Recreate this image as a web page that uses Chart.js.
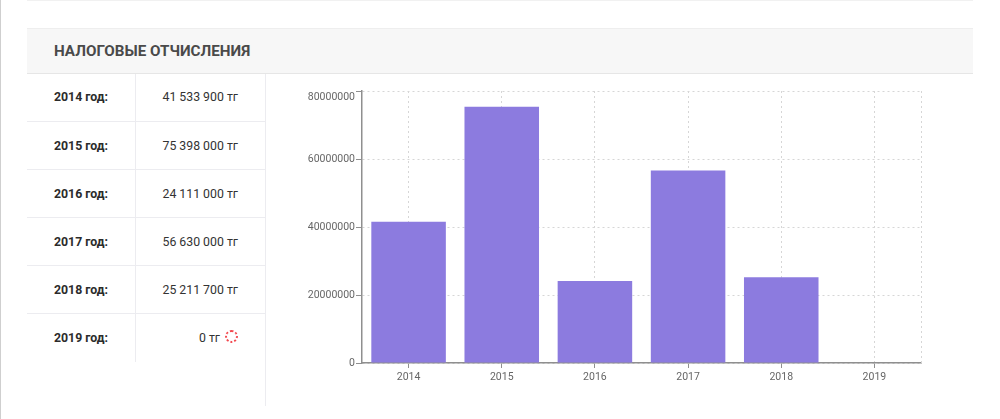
<!DOCTYPE html>
<html>

<head>
    <meta charset="utf-8">
    <title>Налоговые отчисления</title>
    <script src="https://cdn.jsdelivr.net/npm/chart.js@4/dist/chart.umd.min.js"></script>
    <style>
        html, body { margin: 0; padding: 0; background: #fff; }
        body { position: relative; width: 1000px; height: 419px; overflow: hidden; font-family: Roboto, sans-serif; }
        .edge { position: absolute; left: 0; top: 0; width: 1px; height: 419px; background: #cfcfcf; }
        .strip { position: absolute; left: 27px; top: 0; width: 946px; height: 1px; background: #f1f1f1; }
        .head {
            position: absolute; left: 27px; top: 28px; width: 946px; height: 44px; line-height: 45px;
            background: #f7f7f7; border-top: 1px solid #eee; border-bottom: 1px solid #e6e6e6;
            font-size: 15.2px; font-weight: 700; color: #4a4a4a; text-indent: 27px;
        }
        .col { position: absolute; top: 74px; width: 1px; background: #ececf0; }
        .row { position: absolute; left: 27px; width: 238px; height: 48px; line-height: 49px; font-size: 12.3px; color: #333; }
        .row b { position: absolute; left: 27px; color: #2b2b2b; }
        .row span { position: absolute; right: 27px; }
        .row.line { border-top: 1px solid #ececf0; }
        .spin {
            display: inline-block; width: 9px; height: 9px; margin-left: 5px; vertical-align: -1px;
            border: 2px dotted #f2484f; border-radius: 50%;
        }
        #wrap { position: absolute; left: 266px; top: 74px; width: 700px; height: 330px; }
    </style>
</head>

<body>
    <div class="edge"></div>
    <div class="strip"></div>
    <div class="head">НАЛОГОВЫЕ ОТЧИСЛЕНИЯ</div>
    <div class="col" style="left:135px;height:288px"></div>
    <div class="col" style="left:265px;height:332px"></div>
    <div id="rows"></div>
    <div id="wrap"><canvas id="grafico" width="700" height="330"></canvas></div>
    <script>
        var years = ['2014', '2015', '2016', '2017', '2018', '2019'];
        var taxes = [41533900, 75398000, 24111000, 56630000, 25211700, 0];
        var yTicks = [0, 20000000, 40000000, 60000000, 80000000];

        // Таблица слева
        var rows = document.getElementById('rows');
        years.forEach(function (year, i) {
            var row = document.createElement('div');
            row.className = 'row' + (i > 0 ? ' line' : '');
            row.style.top = (73 + i * 48) + 'px';
            var sum = String(taxes[i]).replace(/\B(?=(\d{3})+$)/g, ' ');
            row.innerHTML = '<b>' + year + ' год:</b><span>' + sum + ' тг' +
                (taxes[i] === 0 ? '<i class="spin"></i>' : '') + '</span>';
            rows.appendChild(row);
        });

        var axisGray = '#8f8f8f';
        var gridGray = '#d6d6d6';
        var tickFont = { family: 'Roboto', size: 10.5 };

        // Правая пунктирная граница области графика
        var rightEdge = {
            id: 'rightEdge',
            beforeDatasetsDraw: function (chart) {
                var c = chart.ctx, area = chart.chartArea;
                c.save();
                c.strokeStyle = gridGray;
                c.setLineDash([2, 3]);
                c.beginPath();
                c.moveTo(area.right + 0.5, area.top);
                c.lineTo(area.right + 0.5, area.bottom);
                c.stroke();
                c.restore();
            }
        };

        var ctx = document.getElementById('grafico').getContext('2d');
        var chart = new Chart(ctx, {
            type: 'bar',
            data: {
                labels: years,
                datasets: [{
                    label: 'Налоговые отчисления',
                    data: taxes,
                    backgroundColor: '#8c7bdf',
                    barPercentage: 0.8,
                    categoryPercentage: 1
                }]
            },
            plugins: [rightEdge],
            options: {
                responsive: false,
                animation: false,
                layout: { padding: { left: 0, top: 17, right: 45, bottom: 0 } },
                plugins: { legend: { display: false }, tooltip: { enabled: false } },
                scales: {
                    x: {
                        afterFit: function (axis) { axis.height = 41; },
                        grid: { offset: false, color: gridGray, tickColor: axisGray, tickLength: 5, tickBorderDash: [] },
                        border: { color: axisGray, width: 1.5, dash: [2, 3] },
                        ticks: { color: '#666', font: tickFont, padding: 3, maxRotation: 0 }
                    },
                    y: {
                        min: 0,
                        max: 80000000,
                        afterFit: function (axis) { axis.width = 96; },
                        afterBuildTicks: function (axis) {
                            axis.ticks = yTicks.map(function (v) { return { value: v }; });
                        },
                        grid: { color: gridGray, tickColor: axisGray, tickLength: 6, tickBorderDash: [] },
                        border: { color: axisGray, width: 1.5, dash: [2, 3] },
                        ticks: {
                            color: '#666',
                            font: tickFont,
                            padding: 1,
                            // верхняя подпись в оригинале сдвинута вниз
                            callback: function (value) {
                                return value === 80000000 ? ['', String(value)] : String(value);
                            }
                        }
                    }
                }
            }
        });
    </script>
</body>

</html>
